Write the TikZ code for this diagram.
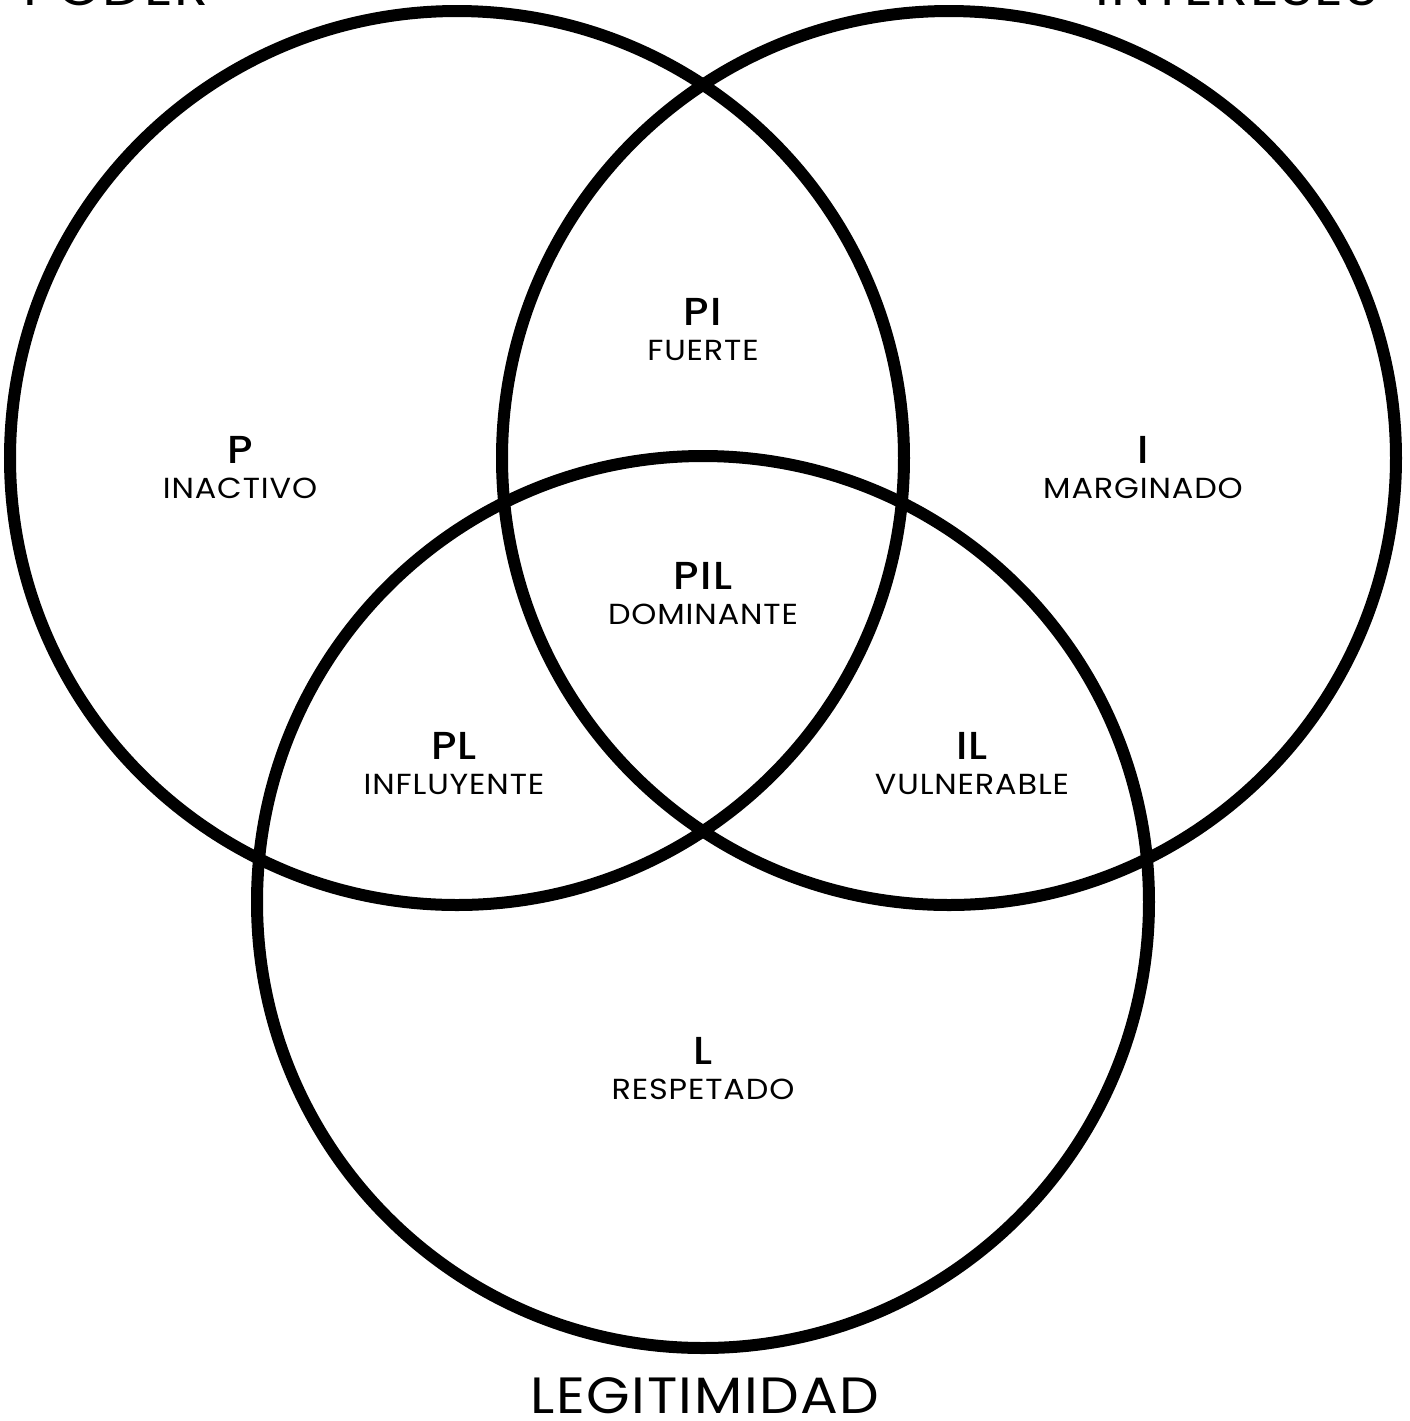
\documentclass[tikz,border=0pt]{standalone}
\usepackage{fontspec}
\setmainfont{Poppins}[FakeStretch=1.1, LetterSpace=3, BoldFont={Poppins Medium}]
\usepackage{tikz}
\usetikzlibrary{positioning}
\definecolor{inkblack}{RGB}{0,0,0}
\tikzset{
  ring/.style={draw=inkblack, line width=6pt},
  setname/.style={font=\fontsize{25.5}{25.5}\selectfont, text=inkblack, inner sep=0pt, anchor=base},
  code/.style={font=\fontsize{19.5}{19.5}\selectfont\bfseries, text=inkblack, inner sep=0pt, anchor=base},
  kind/.style={font=\fontsize{14.5}{14.5}\selectfont, text=inkblack, inner sep=0pt, anchor=base},
}
\begin{document}
\begin{tikzpicture}[x=0.5pt, y=-0.5pt]
  \useasboundingbox (0,0) rectangle (1410,1421);
  % the three sets
  \draw[ring] (457,458) circle[radius=447];
  \draw[ring] (949,458) circle[radius=447];
  \draw[ring] (703,902) circle[radius=446];

  \node[setname] (poder) at (116,5) {PODER};
  \node[setname] (intereses) at (1237,5) {INTERESES};
  \node[setname] (legitimidad) at (705,1413) {LEGITIMIDAD};

  \node[code] (p) at (240,463) {P};
  \node[kind] (p-kind) at ([yshift=-17.5pt]p.base) {INACTIVO};
  \node[code] (pi) at (703,325) {PI};
  \node[kind] (pi-kind) at ([yshift=-17.5pt]pi.base) {FUERTE};
  \node[code] (i) at (1143,463) {I};
  \node[kind] (i-kind) at ([yshift=-17.5pt]i.base) {MARGINADO};
  \node[code] (pil) at (703,589) {PIL};
  \node[kind] (pil-kind) at ([yshift=-17.5pt]pil.base) {DOMINANTE};
  \node[code] (pl) at (454,759) {PL};
  \node[kind] (pl-kind) at ([yshift=-17.5pt]pl.base) {INFLUYENTE};
  \node[code] (il) at (972,759) {IL};
  \node[kind] (il-kind) at ([yshift=-17.5pt]il.base) {VULNERABLE};
  \node[code] (l) at (703,1064) {L};
  \node[kind] (l-kind) at ([yshift=-17.5pt]l.base) {RESPETADO};
\end{tikzpicture}
\end{document}
